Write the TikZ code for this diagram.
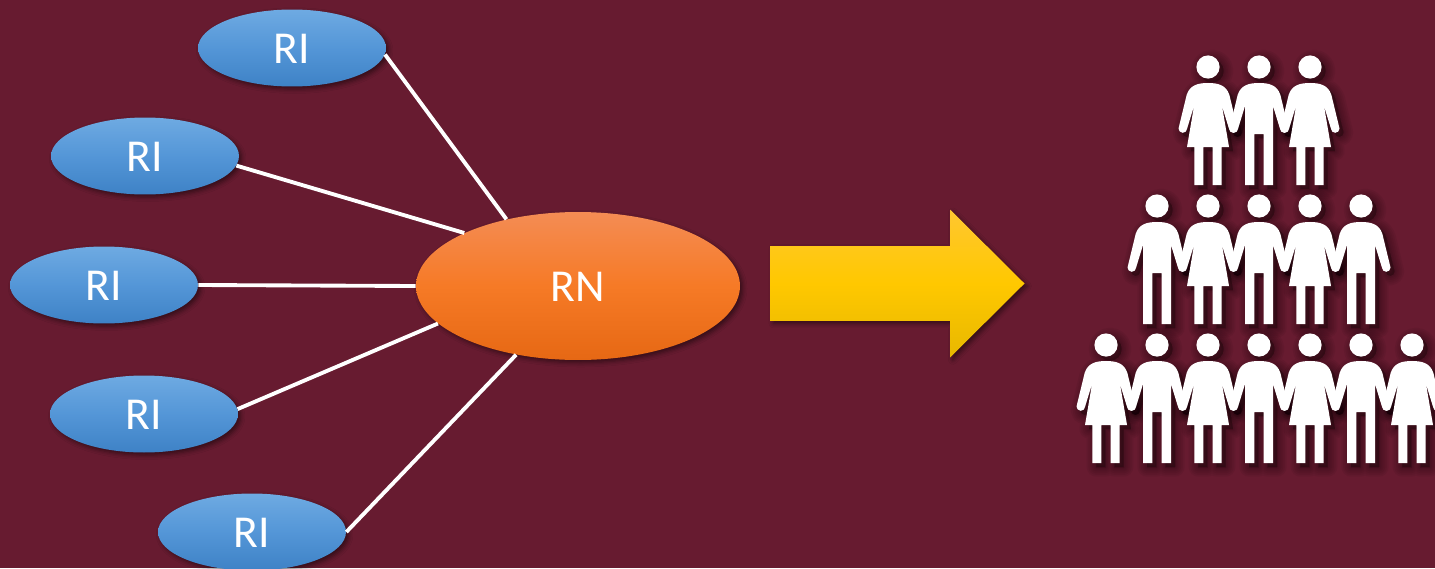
\documentclass[tikz,border=0pt]{standalone}
\usepackage{fontspec}
\setmainfont{Carlito}
\usetikzlibrary{shapes.geometric,shapes.arrows,shadows.blur}
\definecolor{wine}{RGB}{103,27,48}
\definecolor{bluetop}{RGB}{110,170,226}
\definecolor{bluemid}{RGB}{84,150,215}
\definecolor{bluebot}{RGB}{62,130,198}
\definecolor{orangetop}{RGB}{244,140,84}
\definecolor{orangemid}{RGB}{246,122,38}
\definecolor{orangebot}{RGB}{230,104,20}
\definecolor{goldtop}{RGB}{255,199,48}
\definecolor{goldmid}{RGB}{255,200,0}
\definecolor{goldbot}{RGB}{232,184,0}
% outlines of the figures, head centre at (0,0)
\newcommand{\womanfig}{(0,0) circle (11.6)
	(0,16) .. controls (10,16) and (18,18) .. (21.3,27.7) -- (29.5,61.5) arc (0:180:4.3)
	-- (14,39) -- (21,80) -- (13.7,80) -- (13.7,118) -- (4.7,118) -- (4.7,80)
	-- (-4.7,80) -- (-4.7,118) -- (-13.7,118) -- (-13.7,80) -- (-21,80) -- (-14,39)
	-- (-20.9,61.5) arc (0:180:4.3) -- (-21.3,27.7) .. controls (-18,18) and (-10,16) .. (0,16) -- cycle}
\newcommand{\manfig}{(0,0) circle (11.6)
	(0,16) .. controls (10,16) and (18,18) .. (21.3,27.7) -- (29.5,61.5) arc (0:180:4.3)
	-- (14,39) -- (14,118) -- (4.7,118) -- (4.7,67)
	-- (-4.7,67) -- (-4.7,118) -- (-14,118) -- (-14,39)
	-- (-20.9,61.5) arc (0:180:4.3) -- (-21.3,27.7) .. controls (-18,18) and (-10,16) .. (0,16) -- cycle}
\newcommand{\crowd}{1208/67/\womanfig,1259/67/\manfig,1310/67/\womanfig,
	1157/206/\manfig,1208/206/\womanfig,1259/206/\manfig,1310/206/\womanfig,1361/206/\manfig,
	1106/345/\womanfig,1157/345/\manfig,1208/345/\womanfig,1259/345/\manfig,1310/345/\womanfig,1361/345/\manfig,1412/345/\womanfig}
\tikzset{
	softshadow/.style={blur shadow={shadow xshift=1.5pt,shadow yshift=-1.5pt,shadow blur radius=2.5pt,shadow opacity=50}},
	ri/.style={ellipse,inner sep=0pt,minimum width=3.76cm,minimum height=1.54cm,text=white,text height=18pt,text depth=0pt,
		font=\fontsize{26}{30}\selectfont,top color=bluetop,bottom color=bluebot,middle color=bluemid,softshadow},
	rn/.style={ellipse,inner sep=0pt,minimum width=6.48cm,minimum height=2.96cm,text=white,text height=18pt,text depth=0pt,
		font=\fontsize{26}{30}\selectfont,top color=orangetop,bottom color=orangebot,middle color=orangemid,softshadow},
	bigarrow/.style={single arrow,inner sep=0pt,text height=.74cm,text depth=.74cm,minimum height=5.08cm,
		single arrow head extend=.73cm,single arrow tip angle=89.6,single arrow head indent=0pt,
		top color=goldtop,bottom color=goldbot,middle color=goldmid,softshadow},
	link/.style={draw=white,line width=2.2pt},
	figshadow/.style={fill=black,draw=black,opacity=.05,line width=#1,line join=round,shift={(4,4)}},
	figwhite/.style={fill=white}
}
\begin{document}
\begin{tikzpicture}[x=0.02cm,y=-0.02cm]
	\fill[wine] (0,0) rectangle (1435,568);
	\useasboundingbox (0,0) rectangle (1435,568);
	%Left nodes
	\node[ri](ri1) at (292,48){RI};
	\node[ri](ri2) at (145,156){RI};
	\node[ri](ri3) at (104,285){RI};
	\node[ri](ri4) at (144,414){RI};
	\node[ri](ri5) at (252,532){RI};
	%Centre node
	\node[rn](rn) at (578,286){RN};
	%Links
	\draw[link] (ri1.-4) -- (rn.137);
	\draw[link] (ri2.-6) -- (rn.155);
	\draw[link] (ri3.east) -- (rn.west);
	\draw[link] (ri4.3) -- (rn.195);
	\draw[link] (ri5.east) -- (rn.228);
	%Arrow
	\node[bigarrow,anchor=tip](arrow) at (1025,283.5){};
	%People
	\foreach \w in {11pt,9pt,7pt,5pt,3pt,1.5pt}
		\foreach \x/\y/\fig in \crowd
			\path[figshadow=\w,shift={(\x,\y)}] \fig;
	\foreach \x/\y/\fig in \crowd
		\path[figwhite,shift={(\x,\y)}] \fig;
\end{tikzpicture}
\end{document}
